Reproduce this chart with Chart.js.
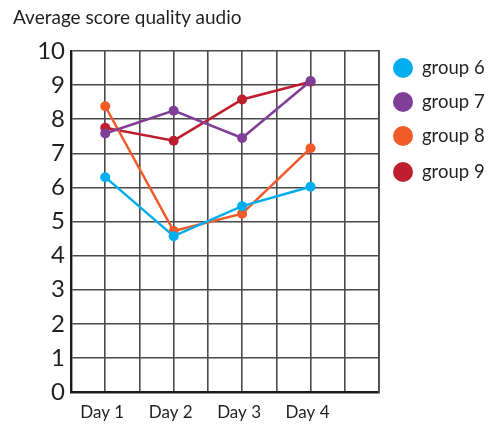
<!DOCTYPE html>
<html>
<head>
<meta charset="utf-8">
<script src="https://cdn.jsdelivr.net/npm/chart.js@4"></script>
<style>
  html, body { margin: 0; padding: 0; background: #fff; }
  #wrap { position: relative; width: 495px; height: 424px; font-family: Lato, sans-serif; color: #231f20; }
  #title { position: absolute; left: 13px; top: 5px; font-size: 19px; white-space: nowrap; }
  #legend { position: absolute; left: 393px; top: 0; }
  .item { position: absolute; left: 0; white-space: nowrap; font-size: 18.5px; line-height: 20px; }
  .dot { position: absolute; left: 0; top: 0; width: 20px; height: 20px; border-radius: 50%; }
  .lbl { position: absolute; left: 29px; top: -1px; }
  canvas { position: absolute; left: 0; top: 0; }
</style>
</head>
<body>
<div id="wrap">
  <canvas id="c" width="495" height="424"></canvas>
  <div id="title">Average score quality audio</div>
  <div id="legend"></div>
</div>
<script>
// Days shown on the x axis
const days = ['Day 1', 'Day 2', 'Day 3', 'Day 4'];
// Average audio quality score per group and day
const group6 = [6.3, 4.57, 5.45, 6.02];
const group7 = [7.58, 8.25, 7.45, 9.12];
const group8 = [8.38, 4.72, 5.23, 7.15];
const group9 = [7.75, 7.37, 8.58, 9.1];
const seriesNames = ['group 6', 'group 7', 'group 8', 'group 9'];
const seriesColors = ['#00aeef', '#7f3f98', '#f15a29', '#be1e2d'];
const yTicks = [0, 1, 2, 3, 4, 5, 6, 7, 8, 9, 10];

// Each day sits on every other grid column; the grid has 9 columns.
const slots = 10;
const labels = Array(slots).fill('');
days.forEach((d, i) => { labels[1 + 2 * i] = d; });
function spread(values) {
  const out = Array(slots).fill(null);
  values.forEach((v, i) => { out[1 + 2 * i] = v; });
  return out;
}

const series = [group6, group7, group8, group9];
const datasets = series.map((vals, i) => ({
  label: seriesNames[i],
  data: spread(vals),
  borderColor: seriesColors[i],
  backgroundColor: seriesColors[i],
  pointBackgroundColor: seriesColors[i],
  pointBorderColor: seriesColors[i],
  borderWidth: 2.5,
  pointRadius: 5,
  pointBorderWidth: 0,
  spanGaps: true,
  tension: 0
}));

const gridColor = '#4a4a4a';

const chart = new Chart(document.getElementById('c'), {
  type: 'line',
  data: { labels, datasets },
  options: {
    responsive: false,
    animation: false,
    layout: { padding: { left: 0, top: 51, right: 116, bottom: 0 } },
    plugins: { legend: { display: false }, title: { display: false }, tooltip: { enabled: false } },
    scales: {
      x: {
        type: 'category',
        offset: false,
        grid: { color: gridColor, lineWidth: 1.6, drawTicks: false },
        border: { color: '#1a1a1a', width: 2.4 },
        ticks: {
          autoSkip: false, maxRotation: 0, padding: 10, labelOffset: -3,
          color: '#231f20', font: { family: 'Lato', size: 17 }
        },
        afterFit: s => { s.height = 32; }
      },
      y: {
        min: 0, max: 10,
        afterBuildTicks: s => { s.ticks = yTicks.map(v => ({ value: v })); },
        grid: { color: gridColor, lineWidth: 1.6, drawTicks: false },
        border: { color: '#1a1a1a', width: 2.4 },
        ticks: { padding: 6, color: '#231f20', font: { family: 'Lato', size: 24 } },
        afterFit: s => { s.width = 71; }
      },
      y2: {
        position: 'right', min: 0, max: 10,
        grid: { display: false },
        border: { color: gridColor, width: 1.8 },
        ticks: { display: false },
        afterFit: s => { s.width = 0; }
      }
    }
  }
});

// Legend built from the chart's datasets
const legend = document.getElementById('legend');
const legendTops = [58, 92, 126, 162];
chart.data.datasets.forEach((ds, i) => {
  const item = document.createElement('div');
  item.className = 'item';
  item.style.top = legendTops[i] + 'px';
  const dot = document.createElement('span');
  dot.className = 'dot';
  dot.style.background = ds.borderColor;
  const lbl = document.createElement('span');
  lbl.className = 'lbl';
  lbl.textContent = ds.label;
  item.appendChild(dot);
  item.appendChild(lbl);
  legend.appendChild(item);
});
</script>
</body>
</html>
